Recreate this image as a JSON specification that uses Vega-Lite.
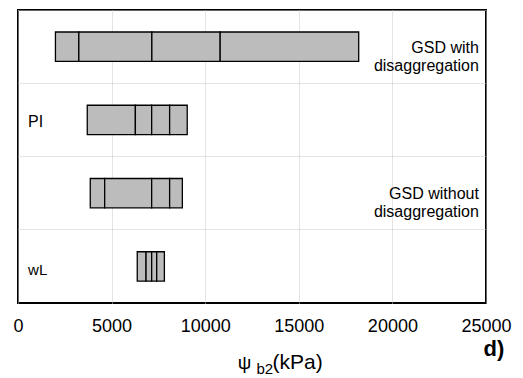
{
  "$schema": "https://vega.github.io/schema/vega-lite/v6.json",
  "width": 468,
  "height": 293,
  "autosize": "none",
  "padding": {"left": 18, "top": 10, "right": 37, "bottom": 75},
  "config": {
    "view": {"stroke": "black", "strokeWidth": 2},
    "font": "Liberation Sans",
    "axis": {"titleColor": "black", "labelColor": "black", "titleFontWeight": "normal"}
  },
  "datasets": {
    "segments": [
      {"row": "gsd_with", "start": 2000, "end": 3250},
      {"row": "gsd_with", "start": 3250, "end": 7150},
      {"row": "gsd_with", "start": 7150, "end": 10800},
      {"row": "gsd_with", "start": 10800, "end": 18200},
      {"row": "pi", "start": 3700, "end": 6270},
      {"row": "pi", "start": 6270, "end": 7140},
      {"row": "pi", "start": 7140, "end": 8100},
      {"row": "pi", "start": 8100, "end": 9040},
      {"row": "gsd_without", "start": 3860, "end": 4630},
      {"row": "gsd_without", "start": 4630, "end": 7140},
      {"row": "gsd_without", "start": 7140, "end": 8100},
      {"row": "gsd_without", "start": 8100, "end": 8780},
      {"row": "wl", "start": 6370, "end": 6840},
      {"row": "wl", "start": 6840, "end": 7140},
      {"row": "wl", "start": 7140, "end": 7410},
      {"row": "wl", "start": 7410, "end": 7820}
    ],
    "labels": [
      {"row": "gsd_with", "label": "GSD with\ndisaggregation"},
      {"row": "pi", "label": "PI"},
      {"row": "gsd_without", "label": "GSD without\ndisaggregation"},
      {"row": "wl", "label": "wL"}
    ]
  },
  "layer": [
    {
      "data": {"name": "segments"},
      "mark": {"type": "bar", "fill": "#bcbcbc", "stroke": "black", "strokeWidth": 1.3, "height": {"band": 0.4}},
      "encoding": {
        "x": {
          "field": "start", "type": "quantitative",
          "scale": {"domain": [0, 25000], "nice": false, "zero": true},
          "axis": {
            "values": [0, 5000, 10000, 15000, 20000, 25000], "format": "d",
            "grid": true, "gridColor": "#c8c8c8", "gridDash": [1, 1], "gridWidth": 1,
            "ticks": false, "domain": false,
            "labelFontSize": 18, "labelPadding": 14, "labelFlush": false,
            "title": "(kPa)", "titleFontSize": 21, "titleAlign": "left", "titleBaseline": "alphabetic",
            "titleX": 254, "titleY": 65
          }
        },
        "x2": {"field": "end"},
        "y": {
          "field": "row", "type": "nominal",
          "sort": ["gsd_with", "pi", "gsd_without", "wl"],
          "scale": {"paddingInner": 0, "paddingOuter": 0},
          "axis": {
            "labels": false, "ticks": false, "domain": false,
            "grid": true, "bandPosition": 0, "gridColor": "#c8c8c8", "gridDash": [1, 1], "gridWidth": 1,
            "title": "ψ", "titleAngle": 0, "titleFontSize": 19, "titleAlign": "center", "titleBaseline": "alphabetic",
            "titleX": 226, "titleY": 358
          }
        }
      }
    },
    {
      "data": {"name": "labels"},
      "transform": [{"filter": {"field": "row", "oneOf": ["gsd_with", "gsd_without"]}}],
      "mark": {"type": "text", "align": "right", "baseline": "middle", "fontSize": 16, "lineBreak": "\n", "lineHeight": 18, "dy": 1, "color": "black"},
      "encoding": {
        "x": {
          "datum": 24620, "type": "quantitative",
          "axis": {
            "orient": "top", "labels": false, "ticks": false, "domain": false, "grid": false,
            "title": "b2", "titleFontSize": 15, "titleAlign": "left", "titleBaseline": "alphabetic",
            "titleX": 238, "titleY": 363
          }
        },
        "y": {
          "field": "row", "type": "nominal",
          "sort": ["gsd_with", "pi", "gsd_without", "wl"],
          "axis": {
            "orient": "right", "labels": false, "ticks": false, "domain": false, "grid": false,
            "title": "d)", "titleAngle": 0, "titleFontSize": 22, "titleFontWeight": "bold",
            "titleAlign": "left", "titleBaseline": "alphabetic", "titleX": -3, "titleY": 345
          }
        },
        "text": {"field": "label"}
      }
    },
    {
      "data": {"name": "labels"},
      "transform": [{"filter": {"field": "row", "equal": "pi"}}],
      "mark": {"type": "text", "align": "left", "baseline": "middle", "fontSize": 16, "dy": 2, "color": "black"},
      "encoding": {
        "x": {"datum": 540, "type": "quantitative", "axis": null},
        "y": {"field": "row", "type": "nominal", "sort": ["gsd_with", "pi", "gsd_without", "wl"], "axis": null},
        "text": {"field": "label"}
      }
    },
    {
      "data": {"name": "labels"},
      "transform": [{"filter": {"field": "row", "equal": "wl"}}],
      "mark": {"type": "text", "align": "left", "baseline": "middle", "fontSize": 15, "dy": 4, "color": "black"},
      "encoding": {
        "x": {"datum": 540, "type": "quantitative", "axis": null},
        "y": {"field": "row", "type": "nominal", "sort": ["gsd_with", "pi", "gsd_without", "wl"], "axis": null},
        "text": {"field": "label"}
      }
    }
  ],
  "resolve": {"axis": {"x": "independent", "y": "independent"}}
}
